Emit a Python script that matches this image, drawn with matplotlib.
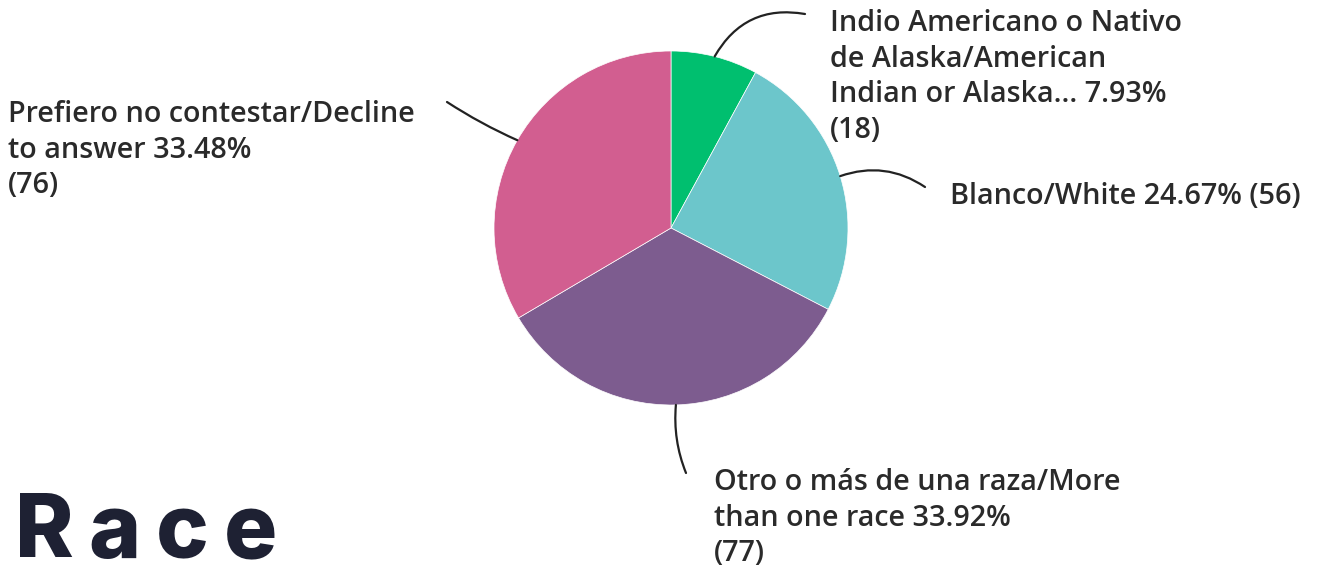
import numpy as np
import matplotlib.pyplot as plt

# survey answers, clockwise from 12 o'clock
labels = [
    'Indio Americano o Nativo\nde Alaska/American\nIndian or Alaska... 7.93%\n(18)',
    'Blanco/White 24.67% (56)',
    'Otro o más de una raza/More\nthan one race 33.92%\n(77)',
    'Prefiero no contestar/Decline\nto answer 33.48%\n(76)',
]
counts = [18, 56, 77, 76]
colors = ['#00bf6f', '#6cc6cb', '#7d5c8f', '#d25e90']

W, H = 1320, 576
fig = plt.figure(figsize=(W / 100, H / 100), dpi=100)
ax = fig.add_axes([0, 0, 1, 1])

cx, cy, r = 671, H - 228, 177
wedges, _ = ax.pie(counts, colors=colors, startangle=90, counterclock=False,
                   center=(cx, cy), radius=r, frame=True,
                   wedgeprops=dict(linewidth=0.5, edgecolor='white'))
ax.set_xlim(0, W)
ax.set_ylim(0, H)
ax.set_aspect('equal')
ax.axis('off')

# label placement: connector end (x, y from top), text anchor, connector curvature
layout = [
    ((805, 14), (830, 9), 'left', 'top', 0.35),
    ((925, 187), (950, 196), 'left', 'center', 0.25),
    ((686, 473), (714, 468), 'left', 'top', -0.12),
    ((447, 102), (8, 100), 'left', 'top', 0.04),
]
font = dict(family=['Open Sans', 'DejaVu Sans'], size=20.7, weight='semibold',
            color='#2a2a2a')
for w, (end, pos, ha, va, rad) in zip(wedges, layout):
    mid = np.deg2rad((w.theta1 + w.theta2) / 2)
    start = (cx + r * np.cos(mid), cy + r * np.sin(mid))
    ax.annotate('', xy=start, xytext=(end[0], H - end[1]),
                arrowprops=dict(arrowstyle='-', color='#222222', lw=1.6,
                                shrinkA=0, shrinkB=0,
                                connectionstyle=f'arc3,rad={rad}'))
for lab, (end, pos, ha, va, rad) in zip(labels, layout):
    ax.text(pos[0], H - pos[1], lab, ha=ha, va=va, linespacing=1.3, **font)

# spaced-out heading
fig.canvas.draw()
renderer = fig.canvas.get_renderer()
x = 15
for ch in 'Race':
    t = fig.text(x / W, (H - 557) / H, ch, fontsize=64, fontweight='heavy',
                 family=['Inter', 'DejaVu Sans'], color='#1e2133', va='baseline')
    bb = t.get_window_extent(renderer)
    x += bb.width + 15

fig.savefig('out.png', dpi=100, facecolor='white')
